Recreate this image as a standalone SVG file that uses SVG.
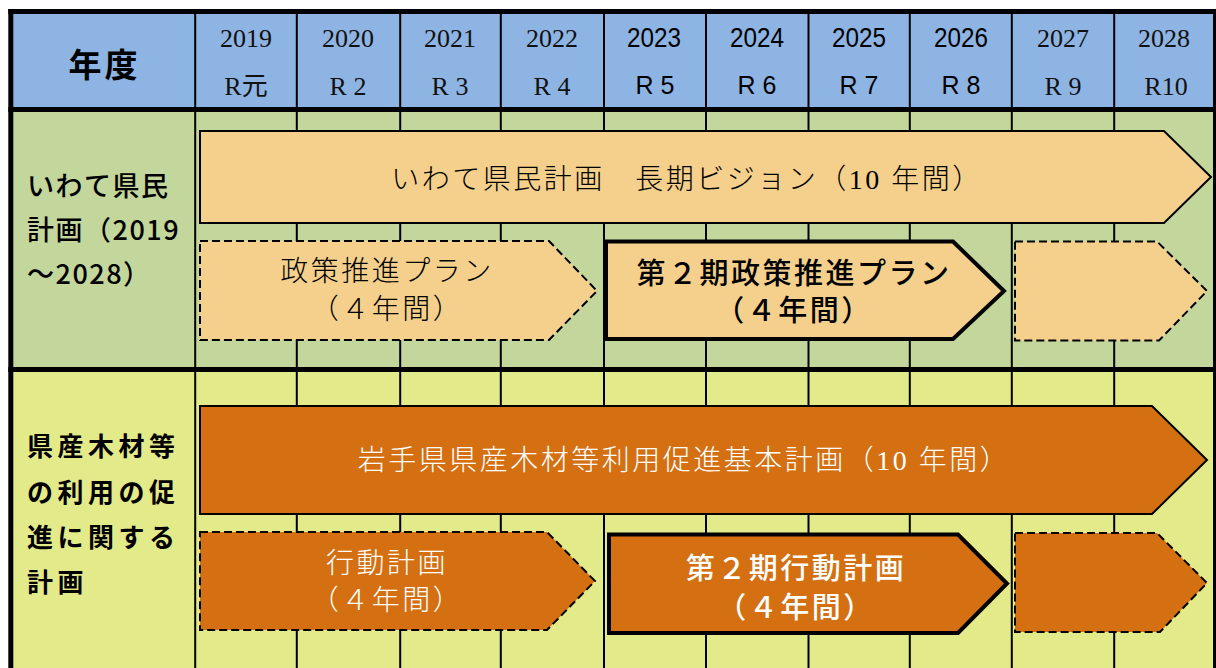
<svg xmlns="http://www.w3.org/2000/svg" width="1216" height="668" viewBox="0 0 1216 668">
<style>
.vl{stroke:#000;stroke-width:2}
.hl{stroke:#000;stroke-width:5}
.yr{font-family:"Liberation Serif","Noto Sans CJK JP",serif;font-size:26px;fill:#111;text-anchor:middle}
.yb{font-family:"Liberation Sans","Noto Sans CJK JP",sans-serif;font-size:28px;fill:#000;text-anchor:middle}
.rb{font-family:"Liberation Sans","Noto Sans CJK JP",sans-serif;font-size:25px;fill:#000;text-anchor:middle}
.lab1{font-family:"Noto Sans CJK JP",sans-serif;font-size:27px;font-weight:500;letter-spacing:1.5px;dominant-baseline:central}
.lab2{font-family:"Noto Sans CJK JP",sans-serif;font-size:26px;font-weight:bold;letter-spacing:4.5px;dominant-baseline:central}
.mt{font-family:"Liberation Serif","Noto Sans CJK JP",serif;font-size:28px;font-weight:300;letter-spacing:2.5px;text-anchor:middle;dominant-baseline:central}
.gt{font-family:"Noto Sans CJK JP",sans-serif;font-size:29px;font-weight:500;letter-spacing:2.5px;text-anchor:middle;dominant-baseline:central}
.lo{fill:#F4D08C}
.dk{fill:#D47012}
.thin{stroke:#000;stroke-width:2}
.dash{stroke:#000;stroke-width:2;stroke-dasharray:8 4}
.bold{stroke:#000;stroke-width:4;stroke-linejoin:miter}
.w{fill:#fff}
.k{fill:#000}
</style>
<g id="grid">
<rect x="11" y="11" width="1205" height="98.5" fill="#8EB4E3"/>
<rect x="11" y="109.5" width="1205" height="260" fill="#C3D69B"/>
<rect x="11" y="369.5" width="1205" height="298.5" fill="#E3EA8A"/>
<line class="vl" x1="195.2" y1="11" x2="195.2" y2="668"/>
<line class="vl" x1="296.8" y1="11" x2="296.8" y2="668"/>
<line class="vl" x1="400.2" y1="11" x2="400.2" y2="668"/>
<line class="vl" x1="500.8" y1="11" x2="500.8" y2="668"/>
<line class="vl" x1="604" y1="11" x2="604" y2="668"/>
<line class="vl" x1="706" y1="11" x2="706" y2="668"/>
<line class="vl" x1="808.5" y1="11" x2="808.5" y2="668"/>
<line class="vl" x1="909.8" y1="11" x2="909.8" y2="668"/>
<line class="vl" x1="1011.8" y1="11" x2="1011.8" y2="668"/>
<line class="vl" x1="1114.2" y1="11" x2="1114.2" y2="668"/>
<line class="hl" x1="8.3" y1="11.5" x2="1216" y2="11.5"/>
<line class="hl" x1="8.3" y1="109.5" x2="1216" y2="109.5"/>
<line class="hl" x1="8.3" y1="369.5" x2="1216" y2="369.5"/>
<line class="hl" x1="10.8" y1="9" x2="10.8" y2="668"/>
<line class="hl" x1="1215.5" y1="9" x2="1215.5" y2="668"/>
</g>
<g id="header">
<text x="104.5" y="62.5" font-family="Noto Sans CJK JP, sans-serif" font-size="33" font-weight="bold" letter-spacing="3" text-anchor="middle" dominant-baseline="central">年度</text>
<text class="yr" x="246" y="47">2019</text><text class="yr" x="246" y="95">R元</text>
<text class="yr" x="348" y="47">2020</text><text class="yr" x="348" y="95">R 2</text>
<text class="yr" x="450" y="47">2021</text><text class="yr" x="450" y="95">R 3</text>
<text class="yr" x="552" y="47">2022</text><text class="yr" x="552" y="95">R 4</text>
<text class="yb" x="654" y="47" textLength="54" lengthAdjust="spacingAndGlyphs">2023</text><text class="rb" x="655" y="94">R 5</text>
<text class="yb" x="757" y="47" textLength="54" lengthAdjust="spacingAndGlyphs">2024</text><text class="rb" x="757" y="94">R 6</text>
<text class="yb" x="859" y="47" textLength="54" lengthAdjust="spacingAndGlyphs">2025</text><text class="rb" x="859" y="94">R 7</text>
<text class="yb" x="961" y="47" textLength="54" lengthAdjust="spacingAndGlyphs">2026</text><text class="rb" x="961" y="94">R 8</text>
<text class="yr" x="1063" y="47">2027</text><text class="yr" x="1063" y="95">R 9</text>
<text class="yr" x="1164" y="47">2028</text><text class="yr" x="1166" y="95">R10</text>
</g>
<g id="label-row1">
<text class="lab1" x="27" y="184">いわて県民</text>
<text class="lab1" x="27" y="228">計画（2019</text>
<text class="lab1" x="27" y="272">～2028）</text>
</g>
<g id="label-row2">
<text class="lab2" x="27" y="444">県産木材等</text>
<text class="lab2" x="27" y="490">の利用の促</text>
<text class="lab2" x="27" y="535">進に関する</text>
<text class="lab2" x="27" y="580">計画</text>
</g>
<g id="vision">
<polygon class="lo thin" points="200,131 1164,131 1211,177 1164,223 200,223"/>
<text class="mt k" x="687" y="179">いわて県民計画　長期ビジョン（10 年間）</text>
</g>
<g id="plan1">
<polygon class="lo dash" points="200,241 549,241 597,291 549,340 200,340"/>
<text class="mt k" x="387" y="271">政策推進プラン</text>
<text class="mt k" x="387" y="309">（４年間）</text>
</g>
<g id="plan2">
<polygon class="lo bold" points="606,241.5 953,241.5 1004,291 953,339 606,339"/>
<text class="gt k" x="794" y="271">第２期政策推進プラン</text>
<text class="gt k" x="794" y="308">（４年間）</text>
</g>
<g id="plan3">
<polygon class="lo dash" points="1015,241.5 1157,241.5 1207,291 1159,340.5 1015,340.5"/>
</g>
<g id="basic-plan">
<polygon class="dk thin" points="200,406 1152,406 1207,460 1152,514 200,514"/>
<text class="mt w" x="684" y="460">岩手県県産木材等利用促進基本計画（10 年間）</text>
</g>
<g id="action1">
<polygon class="dk dash" points="200,532 547,532 595,581 547,630 200,630"/>
<text class="mt w" x="387" y="563">行動計画</text>
<text class="mt w" x="387" y="600">（４年間）</text>
</g>
<g id="action2">
<polygon class="dk bold" points="609,534.5 958,534.5 1007,583.5 958,633 609,633"/>
<text class="gt w" x="796" y="566">第２期行動計画</text>
<text class="gt w" x="796" y="605">（４年間）</text>
</g>
<g id="action3">
<polygon class="dk dash" points="1015,533 1157,533 1207,583 1160,632 1015,632"/>
</g>
<g id="connectors"/>
</svg>
